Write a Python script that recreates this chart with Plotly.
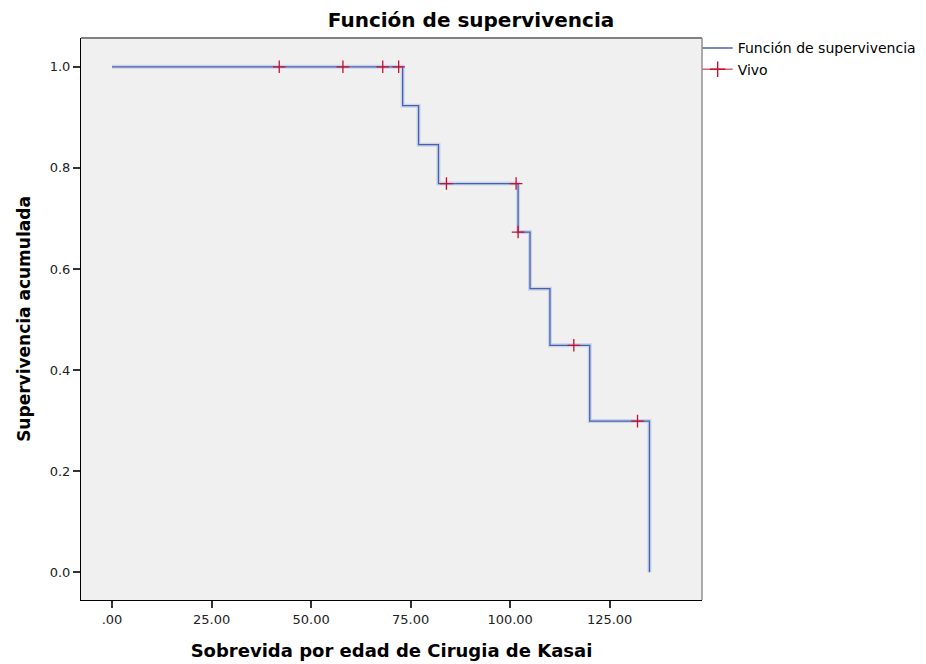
import plotly.graph_objects as go

# Kaplan-Meier step function (event times and survival after each step)
step_times = [0, 73, 77, 82, 102, 105, 110, 120, 135]
step_surv = [1.0, 0.923, 0.846, 0.769, 0.673, 0.561, 0.449, 0.299, 0.0]
end_time = 135

# censored observations ("Vivo")
cens_times = [42, 58, 68, 72, 84, 101.5, 102, 116, 132]
cens_surv = [1.0, 1.0, 1.0, 1.0, 0.769, 0.769, 0.673, 0.449, 0.299]

x_tickvals = [0, 25, 50, 75, 100, 125]
x_ticktext = [".00", "25.00", "50.00", "75.00", "100.00", "125.00"]
y_tickvals = [0.0, 0.2, 0.4, 0.6, 0.8, 1.0]
y_ticktext = ["0.0", "0.2", "0.4", "0.6", "0.8", "1.0"]

FONT = "DejaVu Sans, Verdana, sans-serif"

xs = step_times + [end_time]
ys = step_surv + [step_surv[-1]]

fig = go.Figure()
# soft halo under the line (antialias look)
fig.add_trace(go.Scatter(x=xs, y=ys, mode="lines", line_shape="hv",
                         line=dict(color="rgba(120,145,210,0.30)", width=4),
                         showlegend=False, hoverinfo="skip"))
fig.add_trace(go.Scatter(x=xs, y=ys, mode="lines", line_shape="hv",
                         line=dict(color="#4561b3", width=1.3),
                         name="Función de supervivencia"))
fig.add_trace(go.Scatter(x=cens_times, y=cens_surv, mode="markers",
                         marker=dict(symbol="cross-thin", size=9,
                                     line=dict(color="#c8102e", width=1.3)),
                         showlegend=False))
# legend entry for censored marks (line + cross)
fig.add_trace(go.Scatter(x=[None], y=[None], mode="lines+markers",
                         line=dict(color="#c8102e", width=1),
                         marker=dict(symbol="cross-thin", size=11,
                                     line=dict(color="#c8102e", width=1.4)),
                         name="Vivo"))

fig.update_layout(
    width=926, height=664,
    margin=dict(l=73, r=232, t=30, b=72, autoexpand=False),
    paper_bgcolor="white", plot_bgcolor="#f0f0f0",
    font=dict(family=FONT, color="#000000"),
    title=dict(text="<b>Función de supervivencia</b>", x=0.5, xref="container",
               xanchor="center", y=0.982, yanchor="middle",
               font=dict(size=20, family=FONT, color="#000")),
    showlegend=True,
    legend=dict(x=0.993, xanchor="left", y=1.01, yanchor="top",
                bgcolor="rgba(0,0,0,0)", font=dict(size=14, family=FONT),
                itemwidth=30, tracegroupgap=0),
    xaxis=dict(range=[-7.8, 148.2], tickvals=x_tickvals, ticktext=x_ticktext,
               showgrid=False, zeroline=False, showline=True, linecolor="#000",
               linewidth=1, ticks="outside", ticklen=7, tickcolor="#333",
               tickwidth=2, tickfont=dict(size=13, color="#222"),
               automargin=False,
               title=dict(text="<b>Sobrevida por edad de Cirugia de Kasai</b>",
                          font=dict(size=18), standoff=18)),
    yaxis=dict(range=[-0.055, 1.057], tickvals=y_tickvals, ticktext=y_ticktext,
               showgrid=False, zeroline=False, showline=True, linecolor="#000",
               linewidth=1, ticks="outside", ticklen=7, tickcolor="#333",
               tickwidth=2, tickfont=dict(size=13, color="#222"),
               automargin=False,
               title=dict(text="<b>Supervivencia acumulada</b>",
                          font=dict(size=17), standoff=14)),
)
# gray top and right frame
fig.add_shape(type="line", xref="paper", yref="paper", x0=0, x1=1, y0=1, y1=1,
              line=dict(color="#808080", width=2))
fig.add_shape(type="line", xref="paper", yref="paper", x0=1, x1=1, y0=0, y1=1,
              line=dict(color="#909090", width=1.5))

fig.write_html("out.html")
